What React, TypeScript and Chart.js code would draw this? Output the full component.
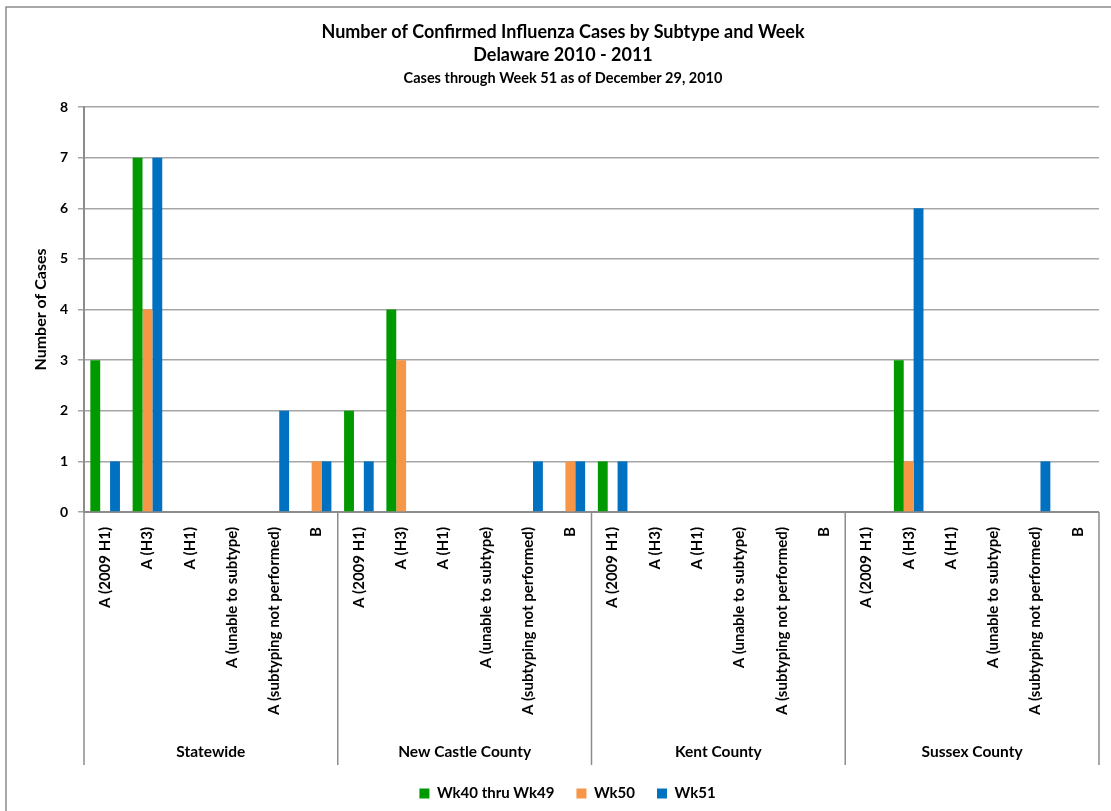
import { useEffect, useRef } from "react";
import { Chart, registerables } from "chart.js";

Chart.register(...registerables);

const titleLines = ["Number of Confirmed Influenza Cases by Subtype and Week", "Delaware 2010 - 2011"];
const subtitleText = "Cases through Week 51 as of December 29, 2010";
const yAxisTitle = "Number of Cases";
const groups = ["Statewide", "New Castle County", "Kent County", "Sussex County"];
const subtypes = ["A (2009 H1)", "A (H3)", "A (H1)", "A (unable to subtype)", "A (subtyping not performed)", "B"];
const seriesNames = ["Wk40 thru Wk49", "Wk50", "Wk51"];
const wk40to49 = [3, 7, 0, 0, 0, 0, 2, 4, 0, 0, 0, 0, 1, 0, 0, 0, 0, 0, 0, 3, 0, 0, 0, 0];
const wk50 = [0, 4, 0, 0, 0, 1, 0, 3, 0, 0, 0, 1, 0, 0, 0, 0, 0, 0, 0, 1, 0, 0, 0, 0];
const wk51 = [1, 7, 0, 0, 2, 1, 1, 0, 0, 0, 1, 1, 1, 0, 0, 0, 0, 0, 0, 6, 0, 0, 1, 0];
const yMin = 0;
const yMax = 8;

const seriesColors = ["#009900", "#F79646", "#0070C0"];
const FONT = "Lato, 'Open Sans', sans-serif";

export default function App() {
  const ref = useRef<HTMLCanvasElement | null>(null);

  useEffect(() => {
    if (!ref.current) return;
    const labels: string[] = [];
    groups.forEach(() => subtypes.forEach((s) => labels.push(s)));

    const overlay = {
      id: "overlay",
      beforeDraw(chart: any) {
        const ctx = chart.ctx;
        ctx.save();
        ctx.fillStyle = "#ffffff";
        ctx.fillRect(0, 0, chart.width, chart.height);
        ctx.restore();
      },
      afterLayout(chart: any) {
        const lg = chart.legend;
        if (lg) {
          lg.left += 13;
          lg.right += 13;
        }
      },
      afterDraw(chart: any) {
        const ctx = chart.ctx;
        const area = chart.chartArea;
        const xs = chart.scales.x;
        ctx.save();
        // outer frame
        ctx.strokeStyle = "#8c8c8c";
        ctx.lineWidth = 1.5;
        ctx.beginPath();
        ctx.moveTo(6, chart.height);
        ctx.lineTo(6, 7);
        ctx.lineTo(chart.width, 7);
        ctx.stroke();

        // titles
        ctx.fillStyle = "#000";
        ctx.textAlign = "center";
        ctx.textBaseline = "middle";
        ctx.font = `bold 18px ${FONT}`;
        ctx.fillText(titleLines[0], 563, 32);
        ctx.fillText(titleLines[1], 563, 55);
        ctx.font = `bold 14.5px ${FONT}`;
        ctx.fillText(subtitleText, 563, 78);

        // y title
        ctx.save();
        ctx.translate(41, (area.top + area.bottom) / 2);
        ctx.rotate(-Math.PI / 2);
        ctx.font = `bold 16px ${FONT}`;
        ctx.fillText(yAxisTitle, 0, 0);
        ctx.restore();

        // group separators and labels
        const n = subtypes.length;
        const step = xs.getPixelForValue(1) - xs.getPixelForValue(0);
        ctx.strokeStyle = "#8c8c8c";
        ctx.lineWidth = 1.5;
        for (let g = 0; g <= groups.length; g++) {
          const x = xs.getPixelForValue(g * n) - step / 2;
          ctx.beginPath();
          ctx.moveTo(x, area.bottom);
          ctx.lineTo(x, area.bottom + 253);
          ctx.stroke();
        }
        ctx.font = `bold 15.5px ${FONT}`;
        groups.forEach((gname, g) => {
          const x0 = xs.getPixelForValue(g * n) - step / 2;
          const x1 = xs.getPixelForValue(g * n + n - 1) + step / 2;
          ctx.fillText(gname, (x0 + x1) / 2, area.bottom + 240);
        });
        ctx.restore();
      },
    };

    const chart = new Chart(ref.current, {
      type: "bar",
      data: {
        labels,
        datasets: [wk40to49, wk50, wk51].map((d, i) => ({
          label: seriesNames[i],
          data: d,
          backgroundColor: seriesColors[i],
          borderWidth: 0,
          categoryPercentage: 0.7,
          barPercentage: 1,
        })),
      },
      options: {
        animation: false,
        responsive: false,
        maintainAspectRatio: false,
        layout: { padding: { left: 6, top: 107, right: 8, bottom: 0 } },
        plugins: {
          title: { display: false },
          tooltip: { enabled: false },
          legend: {
            position: "bottom",
            labels: {
              boxWidth: 10,
              boxHeight: 10,
              padding: 22,
              color: "#000",
              font: { family: FONT, size: 15, weight: "bold" },
            },
          },
        },
        scales: {
          x: {
            grid: { display: false, drawTicks: false },
            border: { display: true, color: "#8c8c8c", width: 2 },
            ticks: {
              autoSkip: false,
              maxRotation: 90,
              minRotation: 90,
              padding: 15,
              color: "#000",
              font: { family: FONT, size: 15, weight: "bold" },
            },
            afterFit(scale: any) {
              scale.height = 252;
            },
          },
          y: {
            min: yMin,
            max: yMax,
            grid: { color: "#a6a6a6", lineWidth: 1.5, tickLength: 6, drawTicks: true },
            border: { display: true, color: "#8c8c8c", width: 2 },
            ticks: {
              stepSize: 1,
              padding: 10,
              color: "#000",
              font: { family: FONT, size: 14, weight: "bold" },
            },
            afterFit(scale: any) {
              scale.width = 78;
            },
          },
        },
      },
      plugins: [overlay],
    });
    return () => chart.destroy();
  }, []);

  return (
    <div style={{ position: "fixed", left: 0, top: 0, width: 1111, height: 811, background: "#fff" }}>
      <canvas ref={ref} width={1111} height={811} style={{ width: 1111, height: 811, display: "block" }} />
    </div>
  );
}
